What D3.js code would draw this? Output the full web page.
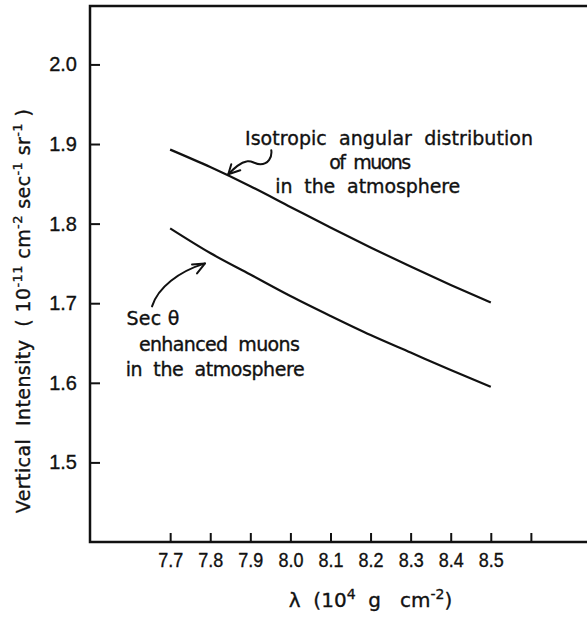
<!DOCTYPE html>
<html>
<head>
<meta charset="utf-8">
<script src="https://cdn.jsdelivr.net/npm/d3@7"></script>
<style>
  body { margin: 0; background: #fff; }
  svg { display: block; font-family: "DejaVu Sans", sans-serif; }
  .axis text { font-size: 20px; fill: #111; stroke: #111; stroke-width: 0.35; }
  .axis line { stroke: #111; stroke-width: 2; }
  .note { font-size: 19px; fill: #111; stroke: #111; stroke-width: 0.35; }
</style>
</head>
<body>
<div id="chart"></div>
<script>
// Dados
var lambdaValues = [7.7, 7.8, 7.9, 8.0, 8.1, 8.2, 8.3, 8.4, 8.5];
var isotropic    = [1.893, 1.871, 1.847, 1.821, 1.795, 1.770, 1.746, 1.723, 1.701];
var secTheta     = [1.794, 1.763, 1.736, 1.709, 1.684, 1.660, 1.638, 1.616, 1.595];

var xTicks      = [7.7, 7.8, 7.9, 8.0, 8.1, 8.2, 8.3, 8.4, 8.5, 8.6];
var xTickLabels = ["7.7", "7.8", "7.9", "8.0", "8.1", "8.2", "8.3", "8.4", "8.5", ""];
var yTicks      = [1.5, 1.6, 1.7, 1.8, 1.9, 2.0];

// Textos das anotações (posição em unidades de dados)
var isoLabel = [
  { text: "Isotropic  angular  distribution", x: 8.246, y: 1.899, len: 288 },
  { text: "of  muons",                       x: 8.199, y: 1.869, len: 82 },
  { text: "in  the  atmosphere",             x: 8.193, y: 1.839, len: 185 }
];
var secLabel = [
  { text: "Sec θ",               x: 7.591, y: 1.6725, len: 53 },
  { text: "enhanced  muons",     x: 7.622, y: 1.640,  len: 161 },
  { text: "in  the  atmosphere", x: 7.589, y: 1.608,  len: 179 }
];

var margin = { top: 6, left: 90, right: -4, bottom: 80 },
    width = 587 - margin.left - margin.right,
    height = 622 - margin.top - margin.bottom;

var svg = d3.select("#chart")
  .append("svg")
  .attr("width", 587)
  .attr("height", 622)
  .append("g")
  .attr("transform", "translate(" + margin.left + "," + margin.top + ")");

var xScale = d3.scaleLinear().domain([7.5, 8.75]).range([0, width]);
var yScale = d3.scaleLinear().domain([1.4, 2.0734]).range([height, 0]);

// Moldura
svg.append("rect")
  .attr("x", 0).attr("y", 0)
  .attr("width", width).attr("height", height)
  .attr("fill", "none")
  .attr("stroke", "#111")
  .attr("stroke-width", 2.5);

// Eixos
var xAxis = d3.axisBottom(xScale)
  .tickValues(xTicks)
  .tickSize(-9)
  .tickPadding(11)
  .tickFormat(function(d, i) { return xTickLabels[i]; });

svg.append("g")
  .attr("class", "axis x-axis")
  .attr("transform", "translate(0," + height + ")")
  .call(xAxis)
  .select(".domain").remove();

svg.selectAll(".x-axis .tick text")
  .attr("textLength", function(d, i) { return xTickLabels[i] ? 25 : null; })
  .attr("lengthAdjust", "spacingAndGlyphs");

var yAxis = d3.axisLeft(yScale)
  .tickValues(yTicks)
  .tickSize(-10)
  .tickPadding(13)
  .tickFormat(d3.format(".1f"));

svg.append("g")
  .attr("class", "axis y-axis")
  .call(yAxis)
  .select(".domain").remove();

// Curvas
var line = d3.line()
  .x(function(d, i) { return xScale(lambdaValues[i]); })
  .y(function(d) { return yScale(d); })
  .curve(d3.curveMonotoneX);

[isotropic, secTheta].forEach(function(series) {
  svg.append("path")
    .datum(series)
    .attr("d", line)
    .attr("fill", "none")
    .attr("stroke", "#111")
    .attr("stroke-width", 2.2);
});

// Anotações
function addLabel(lines, anchor) {
  lines.forEach(function(l) {
    svg.append("text")
      .attr("class", "note")
      .attr("x", xScale(l.x))
      .attr("y", yScale(l.y))
      .attr("text-anchor", anchor)
      .attr("textLength", l.len)
      .attr("lengthAdjust", "spacing")
      .style("white-space", "pre")
      .text(l.text);
  });
}
addLabel(isoLabel, "middle");
addLabel(secLabel, "start");

// Setas desenhadas à mão (ponta em coordenadas de dados)
function addArrow(tip, shaft, head) {
  var g = svg.append("g")
    .attr("transform", "translate(" + xScale(tip[0]) + "," + yScale(tip[1]) + ")")
    .attr("fill", "none")
    .attr("stroke", "#111")
    .attr("stroke-width", 2)
    .attr("stroke-linecap", "round")
    .attr("stroke-linejoin", "round");
  g.append("path").attr("d", shaft);
  g.append("path").attr("d", head);
}
addArrow([7.845, 1.862],
  "M43,-24 C44,-17 40,-10 32,-10 C26,-10 24,-14 19,-13 C12,-12 6,-6 0,0",
  "M3,-10 L0,0 L12,-4");
addArrow([7.787, 1.750],
  "M-53,43 C-47,24 -26,8 0,0",
  "M-13,1 L0,0 L-8,10");

// Títulos dos eixos
var xTitle = svg.append("text")
  .attr("class", "note")
  .attr("x", xScale(8.2))
  .attr("y", height + 65)
  .attr("text-anchor", "middle")
  .style("font-size", "20px")
  .style("white-space", "pre");
xTitle.append("tspan").text("λ  (10");
xTitle.append("tspan").attr("dy", -8).style("font-size", "14px").text("4");
xTitle.append("tspan").attr("dy", 8).text("  g   cm");
xTitle.append("tspan").attr("dy", -8).style("font-size", "14px").text("-2");
xTitle.append("tspan").attr("dy", 8).text(")");

var yTitle = svg.append("text")
  .attr("class", "note")
  .attr("transform", "translate(" + (-60) + "," + yScale(1.69) + ") rotate(-90)")
  .attr("text-anchor", "middle")
  .attr("textLength", 404)
  .attr("lengthAdjust", "spacing")
  .style("font-size", "19px")
  .style("white-space", "pre");
yTitle.append("tspan").text("Vertical  Intensity  ( 10");
yTitle.append("tspan").attr("dy", -8).style("font-size", "13px").text("-11");
yTitle.append("tspan").attr("dy", 8).text(" cm");
yTitle.append("tspan").attr("dy", -8).style("font-size", "13px").text("-2");
yTitle.append("tspan").attr("dy", 8).text(" sec");
yTitle.append("tspan").attr("dy", -8).style("font-size", "13px").text("-1");
yTitle.append("tspan").attr("dy", 8).text(" sr");
yTitle.append("tspan").attr("dy", -8).style("font-size", "13px").text("-1");
yTitle.append("tspan").attr("dy", 8).text(" )");
</script>
</body>
</html>
